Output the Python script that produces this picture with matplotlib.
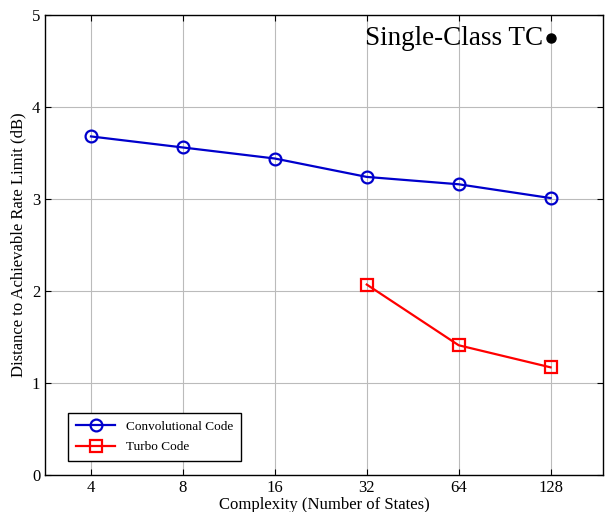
import matplotlib
matplotlib.use('Agg')
import matplotlib.pyplot as plt

states = [4, 8, 16, 32, 64, 128]
conv_gap = [3.68, 3.56, 3.44, 3.24, 3.16, 3.01]
turbo_states = [32, 64, 128]
turbo_gap = [2.07, 1.41, 1.17]
tc_state = 128
tc_gap = 4.75

plt.rcParams['font.family'] = ['Liberation Serif', 'DejaVu Serif']

fig = plt.figure(figsize=(6.05, 5.12), dpi=100)
ax = fig.add_axes([0.0744, 0.0723, 0.9223, 0.8984])

ax.plot(states, conv_gap, color='#0000cc', lw=1.6, marker='o', ms=8.5,
        mfc='none', mew=1.6, label='Convolutional Code')
ax.plot(turbo_states, turbo_gap, color='#ff0000', lw=1.6, marker='s', ms=8,
        mfc='none', mew=1.6, label='Turbo Code')
ax.plot([tc_state], [tc_gap], 'o', color='black', ms=6.5)
ax.text(tc_state * 0.945, tc_gap, 'Single-Class TC', ha='right', va='center', fontsize=19.5)

ax.set_xscale('log', base=2)
ax.set_xlim(2 ** 1.5, 2 ** 7.57)
ax.set_ylim(0, 5)
ax.set_xticks(states)
ax.set_xticklabels([str(s) for s in states])
ax.minorticks_off()
ax.set_yticks([0, 1, 2, 3, 4, 5])
ax.grid(True, color='#bbbbbb', lw=0.8)
ax.tick_params(direction='in', top=True, right=True, labelsize=12, length=4)
for s in ax.spines.values():
    s.set_linewidth(1.0)

ax.set_xlabel('Complexity (Number of States)', fontsize=12, labelpad=1)
ax.set_ylabel('Distance to Achievable Rate Limit (dB)', fontsize=12)

leg = ax.legend(loc='lower left', bbox_to_anchor=(0.041, 0.03), borderaxespad=0,
                fontsize=9.5, fancybox=False, edgecolor='black', framealpha=1,
                handlelength=3, borderpad=0.6, labelspacing=0.6)
leg.get_frame().set_linewidth(1.0)

fig.savefig('out.png', dpi=100)
